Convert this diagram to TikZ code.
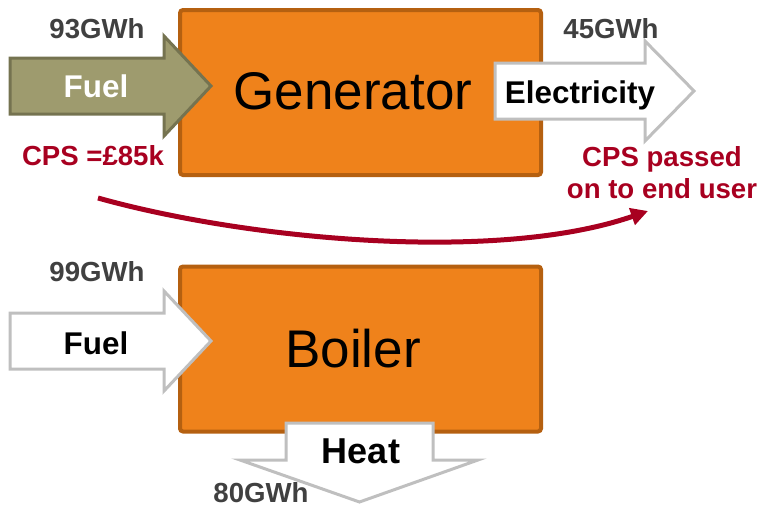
\documentclass[tikz,border=0pt]{standalone}
\usepackage{fontspec}
\setmainfont{Liberation Sans}
\usetikzlibrary{arrows.meta}
\definecolor{boxfill}{RGB}{239,130,27}
\definecolor{boxline}{RGB}{181,96,16}
\definecolor{olivefill}{RGB}{158,155,110}
\definecolor{oliveline}{RGB}{117,115,80}
\definecolor{greyline}{RGB}{191,191,191}
\definecolor{cpsred}{RGB}{168,0,32}
\definecolor{numgrey}{RGB}{64,64,64}
\tikzset{
  unit/.style={draw=boxline, fill=boxfill, line width=4pt, rounded corners=3pt, minimum width=361pt, minimum height=165pt, inner sep=0pt},
  unitlab/.style={font=\fontsize{53}{60}\selectfont, inner sep=0pt},
  fuelarr/.style={draw=oliveline, fill=olivefill, line width=3pt, line join=miter},
  outarr/.style={draw=greyline, fill=white, line width=3pt, line join=miter},
  alab/.style={font=\fontsize{31.4}{36}\selectfont\bfseries, inner sep=0pt},
  qty/.style={font=\fontsize{27.6}{32}\selectfont\bfseries, text=numgrey, inner sep=0pt},
  cpslab/.style={font=\fontsize{27.6}{32}\selectfont\bfseries, text=cpsred, inner sep=0pt, align=center},
  cps/.style={draw=cpsred, line width=5pt, -{Triangle[length=17pt, width=17pt]}}
}
% block arrow pointing right: style, left x, head x, tip x, mid y
\newcommand{\flowarr}[5]{\draw[#1] (#2,#5-28) -- (#3,#5-28) -- (#3,#5-50) -- (#4,#5) -- (#3,#5+50) -- (#3,#5+28) -- (#2,#5+28) -- cycle;}

\begin{document}
\begin{tikzpicture}[x=1pt, y=-1pt]
	\useasboundingbox (0,0) rectangle (761,509);
	% generator
	\node[unit] (gen) at (360.5,92.5) {};
	\node[unitlab] (genlab) at (353,91) {Generator};
	\flowarr{fuelarr}{10}{164}{211}{86}
	\node[alab, text=white] (fuel1) at (96,86) {Fuel};
	\flowarr{outarr}{495}{645}{694}{91}
	\node[alab] (elec) at (580,95) {Electricity};
	\node[qty] (q1) at (97,29) {93GWh};
	\node[qty] (q2) at (611,29) {45GWh};
	\node[cpslab] (cpsin) at (93,156) {CPS =£85k};
	\node[cpslab] (cpsout) at (662,173) {CPS passed\\on to end user};
	% passed on
	\coordinate (cs) at (98,198);
	\coordinate (ce) at (648,211);
	\draw[cps] (cs) .. controls (248,240) and (498,263) .. (ce);
	% boiler
	\node[unit] (boil) at (360.5,349) {};
	\node[unitlab] (boillab) at (353,349) {Boiler};
	\flowarr{outarr}{10}{164}{211}{341}
	\node[alab] (fuel2) at (96,343) {Fuel};
	\draw[outarr] (286,423) -- (433,423) -- (433,460) -- (478,460) -- (359.5,502) -- (240,460) -- (286,460) -- cycle;
	\node[alab, font=\fontsize{36}{40}\selectfont\bfseries] (heat) at (361,451) {Heat};
	\node[qty] (q3) at (97,272) {99GWh};
	\node[qty] (q4) at (261,493) {80GWh};
\end{tikzpicture}
\end{document}
